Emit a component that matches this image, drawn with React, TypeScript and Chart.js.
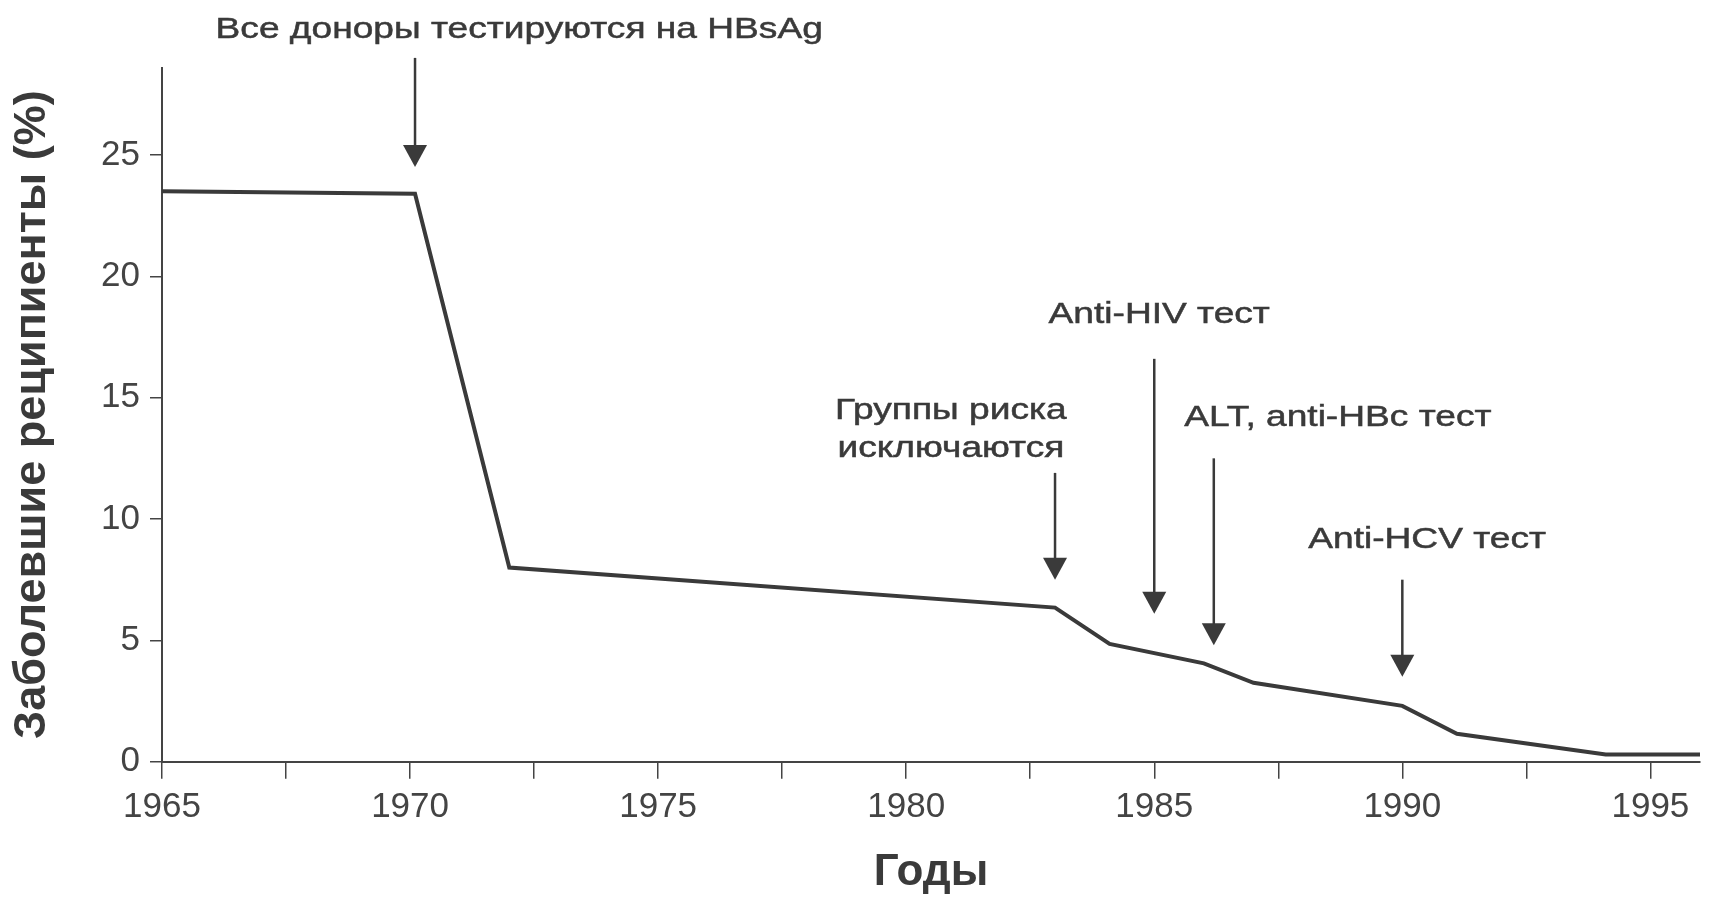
import React, { useEffect, useRef } from "react";
import { Chart, registerables } from "chart.js";

Chart.register(...registerables);

// Data (years vs % of infected recipients)
const years = [1965, 1970.1, 1972, 1983, 1984.1, 1986, 1987, 1990, 1991.1, 1994.1, 1996];
const rates = [23.5, 23.4, 8.0, 6.35, 4.85, 4.05, 3.25, 2.3, 1.15, 0.3, 0.3];

// Axis ticks
const xTickValues = [1965, 1967.5, 1970, 1972.5, 1975, 1977.5, 1980, 1982.5, 1985, 1987.5, 1990, 1992.5, 1995];
const xTickLabels = ["1965", "", "1970", "", "1975", "", "1980", "", "1985", "", "1990", "", "1995"];
const yTickValues = [0, 5, 10, 15, 20, 25];

// Annotations (arrows + labels)
const annYears = [1970.1, 1983, 1985, 1986.2, 1990];
const arrowTop = [29.0, 11.9, 16.6, 12.5, 7.5];
const arrowTip = [24.5, 7.5, 6.1, 4.8, 3.5];
const labelLines = [
  ["Все доноры тестируются на HBsAg"],
  ["Группы риска", "исключаются"],
  ["Anti-HIV тест"],
  ["ALT, anti-HBc тест"],
  ["Anti-HCV тест"],
];
const labelX = [1972.2, 1980.9, 1985.1, 1988.7, 1990.5];
const labelY = [30.15, 14.45, 18.4, 14.15, 9.15];

const xTitle = "Годы";
const yTitle = "Заболевшие реципиенты (%)";

const INK = "#3a3a3a";
const FONT = "'Liberation Sans', Arial, sans-serif";

const annotationPlugin = {
  id: "arrowsAndLabels",
  afterDraw(chart: any) {
    const ctx = chart.ctx;
    const xs = chart.scales.x;
    const ys = chart.scales.y;
    ctx.save();
    annYears.forEach((yr, i) => {
      const x = xs.getPixelForValue(yr);
      const yTop = ys.getPixelForValue(arrowTop[i]);
      const yTip = ys.getPixelForValue(arrowTip[i]);
      const headLen = 22;
      const headHalf = 12;
      ctx.strokeStyle = INK;
      ctx.lineWidth = 2.5;
      ctx.beginPath();
      ctx.moveTo(x, yTop);
      ctx.lineTo(x, yTip - headLen + 2);
      ctx.stroke();
      ctx.fillStyle = INK;
      ctx.beginPath();
      ctx.moveTo(x - headHalf, yTip - headLen);
      ctx.lineTo(x + headHalf, yTip - headLen);
      ctx.lineTo(x, yTip);
      ctx.closePath();
      ctx.fill();
    });
    ctx.fillStyle = INK;
    ctx.strokeStyle = INK;
    ctx.lineWidth = 0.5;
    ctx.font = `29px ${FONT}`;
    ctx.textAlign = "center";
    ctx.textBaseline = "middle";
    const stretch = 1.28;
    labelLines.forEach((lines, i) => {
      const cx = xs.getPixelForValue(labelX[i]);
      const cy = ys.getPixelForValue(labelY[i]);
      lines.forEach((t, j) => {
        ctx.save();
        ctx.translate(cx, cy + j * 38);
        ctx.scale(stretch, 1);
        ctx.fillText(t, 0, 0);
        ctx.strokeText(t, 0, 0);
        ctx.restore();
      });
    });
    ctx.restore();
  },
};

export default function App() {
  const ref = useRef<HTMLCanvasElement>(null);

  useEffect(() => {
    if (!ref.current) return;
    const chart = new Chart(ref.current, {
      type: "line",
      data: {
        datasets: [
          {
            data: years.map((y, i) => ({ x: y, y: rates[i] })),
            borderColor: INK,
            borderWidth: 4,
            pointRadius: 0,
            tension: 0,
            fill: false,
          },
        ],
      },
      options: {
        animation: false,
        responsive: true,
        maintainAspectRatio: false,
        layout: { padding: { top: 67.6, right: 10, left: 0, bottom: 0 } },
        plugins: {
          legend: { display: false },
          tooltip: { enabled: false },
        },
        scales: {
          x: {
            type: "linear",
            min: 1965,
            max: 1996,
            afterFit: (s: any) => {
              s.height = 142.3;
            },
            afterBuildTicks: (s: any) => {
              s.ticks = xTickValues.map((v) => ({ value: v }));
            },
            ticks: {
              autoSkip: false,
              maxRotation: 0,
              padding: 8,
              color: "#444",
              font: { family: FONT, size: 35 },
              callback: (v: any) => {
                const idx = xTickValues.indexOf(Number(v));
                return idx >= 0 ? xTickLabels[idx] : "";
              },
            },
            grid: {
              drawOnChartArea: false,
              drawTicks: true,
              tickLength: 17,
              color: "#444",
              lineWidth: 1.5,
            },
            border: { display: true, color: "#444", width: 2 },
            title: {
              display: true,
              text: xTitle,
              color: "#3a3a3a",
              font: { family: FONT, size: 44, weight: "bold" },
              padding: { top: 0, bottom: 5 },
            },
          },
          y: {
            type: "linear",
            min: 0,
            max: 28.6,
            afterFit: (s: any) => {
              s.width = 162;
            },
            afterBuildTicks: (s: any) => {
              s.ticks = yTickValues.map((v) => ({ value: v }));
            },
            ticks: {
              padding: 10,
              color: "#444",
              font: { family: FONT, size: 35 },
            },
            grid: {
              drawOnChartArea: false,
              drawTicks: true,
              tickLength: 12,
              color: "#444",
              lineWidth: 1.5,
            },
            border: { display: true, color: "#444", width: 2 },
            title: {
              display: true,
              text: yTitle,
              color: "#3a3a3a",
              font: { family: FONT, size: 45, weight: "bold" },
              padding: { top: 6, bottom: 0 },
            },
          },
        },
      },
      plugins: [annotationPlugin],
    });
    return () => chart.destroy();
  }, []);

  return (
    <div style={{ position: "fixed", left: 0, top: 0, width: 1710, height: 904, background: "#fff" }}>
      <canvas ref={ref} />
    </div>
  );
}
